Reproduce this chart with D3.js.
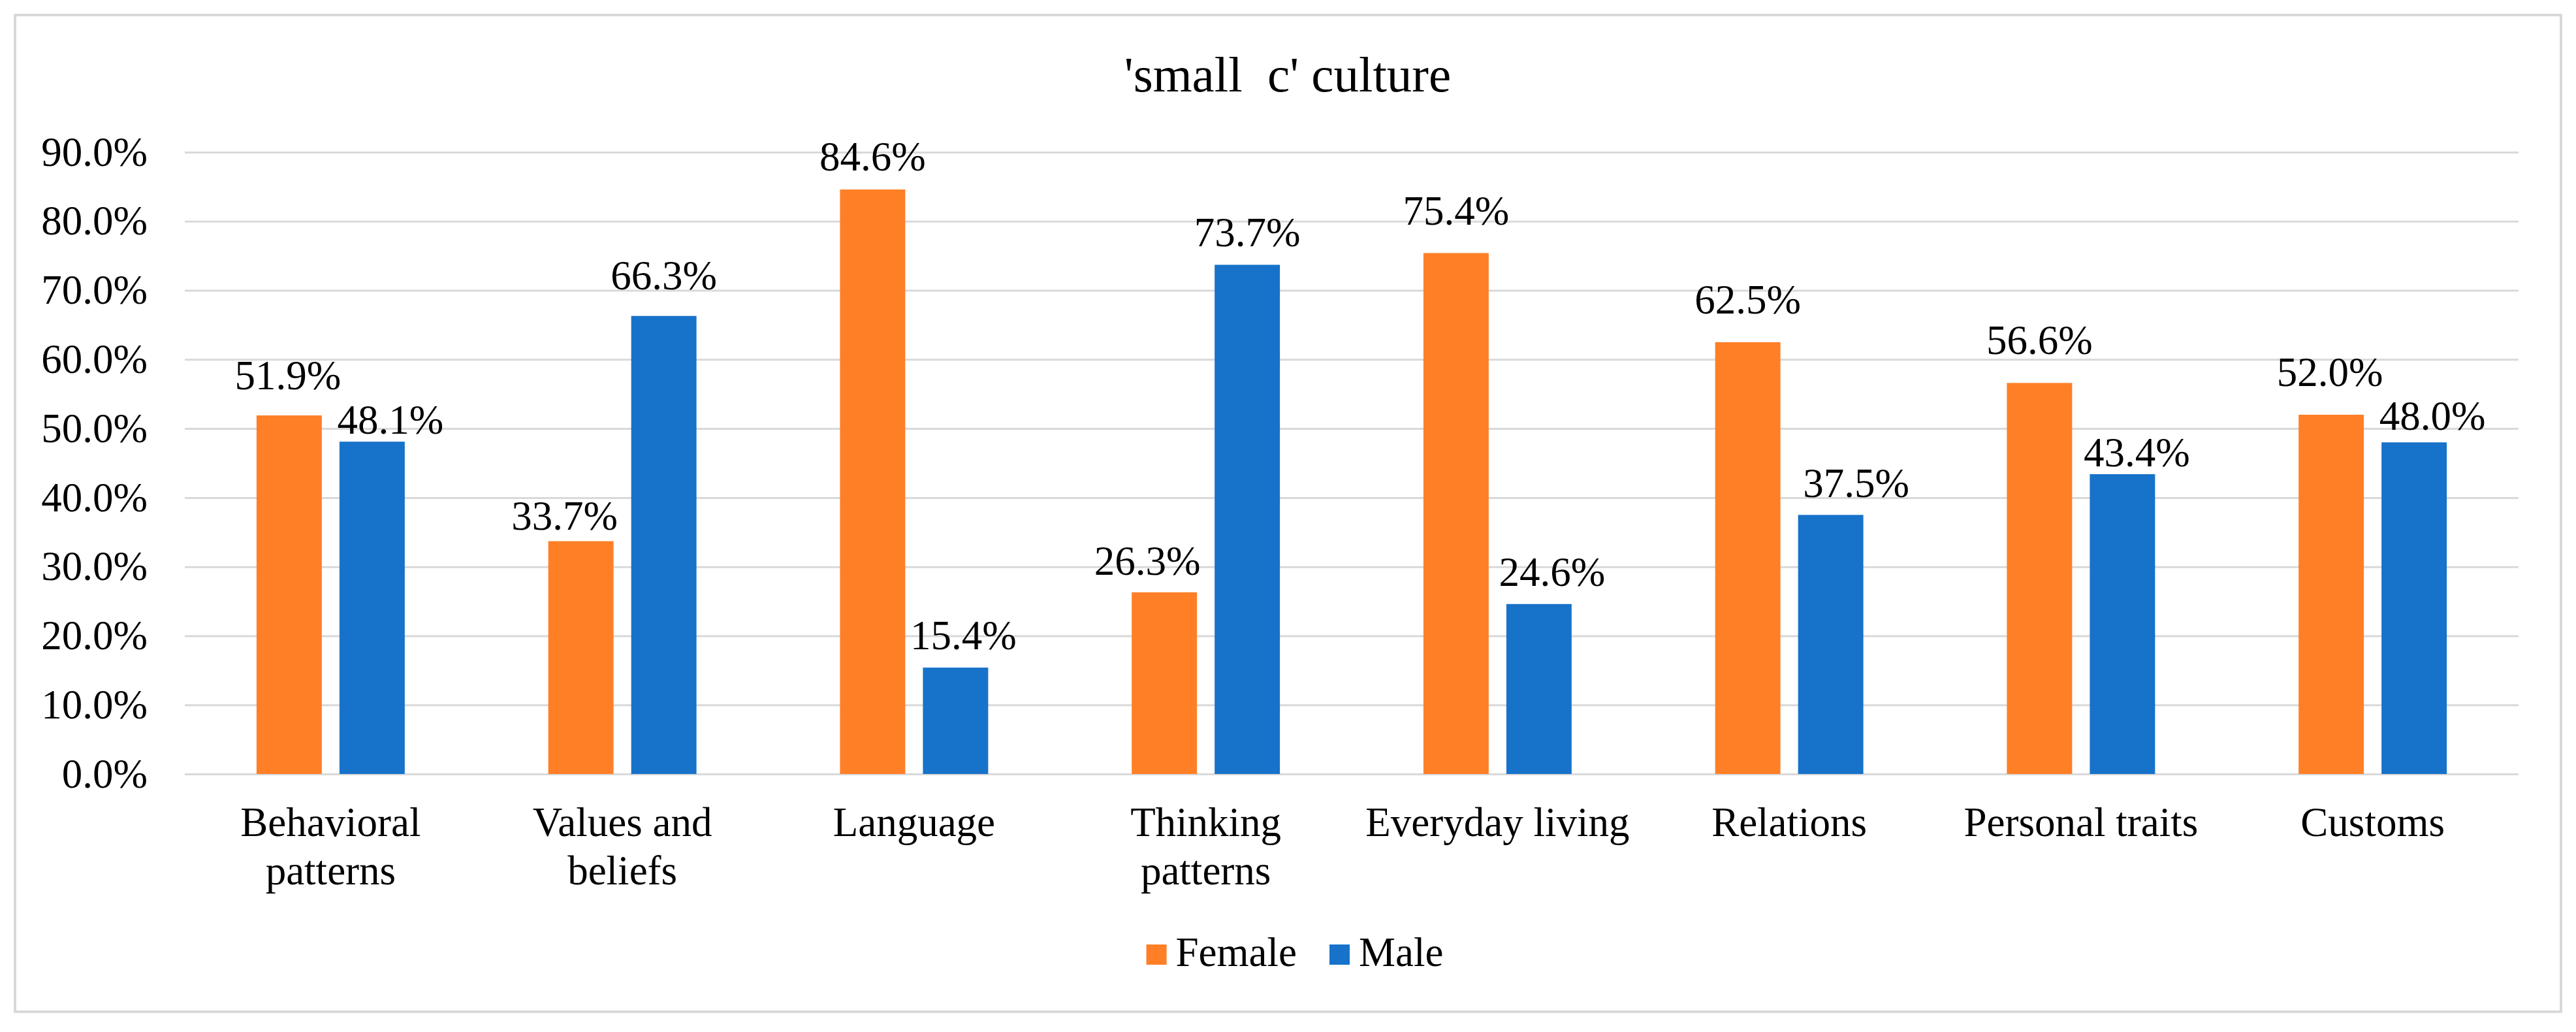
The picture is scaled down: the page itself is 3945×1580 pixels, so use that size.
<!DOCTYPE html>
<html>
<head>
<meta charset="utf-8">
<script src="https://cdn.jsdelivr.net/npm/d3@7"></script>
<style>
  body { margin: 0; background: #fff; }
  text { font-family: "Liberation Serif", "Times New Roman", serif; fill: #000; }
</style>
</head>
<body>
<div id="chart"></div>
<script>
var categories = ['Behavioral patterns', 'Values and beliefs', 'Language', 'Thinking patterns',
    'Everyday living', 'Relations', 'Personal traits', 'Customs'];
var seriesNames = ['Female', 'Male'];
var femaleValues = [0.519, 0.337, 0.846, 0.263, 0.754, 0.625, 0.566, 0.520];
var maleValues = [0.481, 0.663, 0.154, 0.737, 0.246, 0.375, 0.434, 0.480];
var yTicks = [0, 0.1, 0.2, 0.3, 0.4, 0.5, 0.6, 0.7, 0.8, 0.9];
var colors = ['#FF7F27', '#1772C9'];
var titleText = "'small  c' culture";

// data labels were dragged by hand in the original, so keep their nudges (px)
var labelShiftX = [
    [-2, -25, 0, -26, 0, 0, 0, -2],
    [28, 0, 12, 0, 20, 39, 22, 28]
];
var labelGap = [
    [40, 18, 29, 27, 43, 44, 44, 44],
    [12, 41, 28, 28, 28, 27, 12, 19]
];

function createChart() {
    var width = 3945, height = 1580;
    var margin = { left: 283, right: 88, top: 233, bottom: 394 };
    var fontSize = 63;

    var svg = d3.select('#chart')
        .append('svg')
        .attr('width', width)
        .attr('height', height);

    // outer chart border
    svg.append('rect')
        .attr('x', 23).attr('y', 23)
        .attr('width', 3899).attr('height', 1526)
        .style('fill', '#fff')
        .style('stroke', '#d9d9d9')
        .style('stroke-width', 4);

    var x0 = d3.scaleBand()
        .domain(categories)
        .range([margin.left, width - margin.right])
        .paddingInner(0.492)
        .paddingOuter(0.246);

    var x1 = d3.scaleBand()
        .domain(seriesNames)
        .range([0, x0.bandwidth()])
        .paddingInner(0.213);

    var y = d3.scaleLinear()
        .domain([0, 0.9])
        .range([height - margin.bottom - 1, margin.top]);

    var yAxis = svg.append('g')
        .attr('transform', 'translate(' + margin.left + ',0)')
        .call(d3.axisLeft(y)
            .tickValues(yTicks)
            .tickFormat(d3.format('.1%'))
            .tickSize(-(width - margin.left - margin.right))
            .tickPadding(57));
    yAxis.select('.domain').remove();
    yAxis.selectAll('.tick line')
        .style('stroke', '#d9d9d9')
        .style('stroke-width', 3);
    yAxis.selectAll('.tick text')
        .style('font-size', fontSize + 'px')
        .style('font-family', '"Liberation Serif", "Times New Roman", serif')
        .style('fill', '#000');

    var rows = categories.map(function(c, i) {
        return { category: c, i: i, values: [femaleValues[i], maleValues[i]] };
    });

    var groups = svg.append('g')
        .selectAll('g')
        .data(rows)
        .enter()
        .append('g')
        .attr('transform', d => 'translate(' + x0(d.category) + ',0)');

    var cells = groups.selectAll('g')
        .data(d => d.values.map((v, j) => ({ name: seriesNames[j], value: v, idx: j, cat: d.i })))
        .enter()
        .append('g');

    cells.append('rect')
        .attr('x', d => x1(d.name))
        .attr('y', d => y(d.value))
        .attr('width', x1.bandwidth())
        .attr('height', d => y(0) - y(d.value))
        .style('fill', d => colors[d.idx]);

    cells.append('text')
        .text(d => d3.format('.1%')(d.value))
        .attr('x', d => x1(d.name) + x1.bandwidth() / 2 + labelShiftX[d.idx][d.cat])
        .attr('y', d => y(d.value) - labelGap[d.idx][d.cat])
        .style('font-size', fontSize + 'px')
        .style('text-anchor', 'middle');

    // category labels, wrapped like Excel does
    var maxLabelWidth = x0.step() * 0.95;
    svg.append('g')
        .selectAll('text')
        .data(categories)
        .enter()
        .append('text')
        .attr('x', d => x0(d) + x0.bandwidth() / 2)
        .attr('y', 1280)
        .style('font-size', fontSize + 'px')
        .style('text-anchor', 'middle')
        .each(function(d) {
            var el = d3.select(this);
            var words = d.split(' ');
            var lines = [];
            var line = [];
            var probe = el.append('tspan');
            words.forEach(function(w) {
                var test = line.concat([w]).join(' ');
                probe.text(test);
                if (line.length && probe.node().getComputedTextLength() > maxLabelWidth) {
                    lines.push(line.join(' '));
                    line = [w];
                } else {
                    line.push(w);
                }
            });
            lines.push(line.join(' '));
            probe.remove();
            lines.forEach(function(l, k) {
                el.append('tspan')
                    .attr('x', x0(d) + x0.bandwidth() / 2)
                    .attr('dy', k === 0 ? 0 : 74)
                    .text(l);
            });
        });

    svg.append('text')
        .text(titleText)
        .attr('x', 1972)
        .attr('y', 140)
        .style('font-size', '77px')
        .style('white-space', 'pre')
        .style('text-anchor', 'middle');

    // legend
    var legend = svg.append('g');
    var lx = 0;
    seriesNames.forEach(function(name, i) {
        var item = legend.append('g').attr('transform', 'translate(' + lx + ',0)');
        item.append('rect')
            .attr('x', 0).attr('y', 1446)
            .attr('width', 31).attr('height', 31)
            .style('fill', colors[i]);
        var t = item.append('text')
            .text(name)
            .attr('x', 45)
            .attr('y', 1479)
            .style('font-size', fontSize + 'px');
        lx += 45 + t.node().getComputedTextLength() + 50;
    });
    var legendWidth = lx - 50;
    legend.attr('transform', 'translate(' + (1983 - legendWidth / 2) + ',0)');
}

createChart();
</script>
</body>
</html>
